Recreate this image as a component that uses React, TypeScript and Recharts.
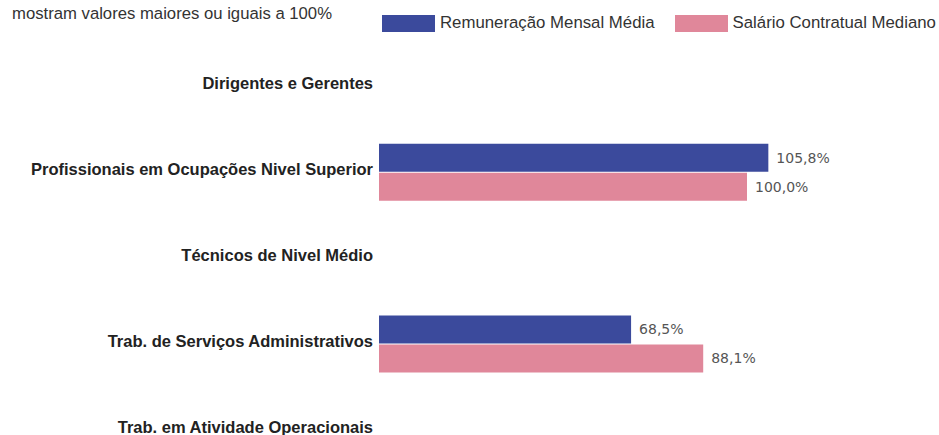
import React from "react";
import { BarChart, Bar, XAxis, YAxis, LabelList } from "recharts";

const categorias = [
    "Dirigentes e Gerentes",
    "Profissionais em Ocupações Nivel Superior",
    "Técnicos de Nivel Médio",
    "Trab. de Serviços Administrativos",
    "Trab. em Atividade Operacionais",
];
const remuneracaoMedia = [null, 105.8, null, 68.5, null];
const salarioMediano = [null, 100.0, null, 88.1, null];

const AZUL = "#3b4a9c";
const ROSA = "#e0879a";

const dados = categorias.map((nome, i) => ({
    nome,
    remuneracao: remuneracaoMedia[i],
    salario: salarioMediano[i],
}));

const formatPct = (v: any) => (v == null ? "" : v.toFixed(1).replace(".", ",") + "%");

const CategoriaTick = (props: any) => {
    const { x, y, payload } = props;
    return (
        <text x={x + 2} y={y} dy={2.5} textAnchor="end" fontFamily="Liberation Sans, Arial"
              fontWeight="bold" fontSize={16.5} fill="#222">
            {payload.value}
        </text>
    );
};

const caixa = (cor: string) => (
    <span style={{ display: "inline-block", width: 53, height: 17, background: cor, marginRight: 5 }} />
);

export default function App() {
    return (
        <div style={{ position: "absolute", left: 0, top: 0, width: 939, height: 435, overflow: "hidden", background: "#fff" }}>
            <div style={{ position: "absolute", left: 12, top: 4, fontFamily: "Liberation Sans, Arial", fontSize: 16.7, color: "#333" }}>
                mostram valores maiores ou iguais a 100%
            </div>
            <div style={{ position: "absolute", left: 382, top: 13, display: "flex", alignItems: "center", whiteSpace: "nowrap",
                          fontFamily: "Liberation Sans, Arial", fontSize: 16.8, color: "#333" }}>
                {caixa(AZUL)}
                <span style={{ marginRight: 20 }}>Remuneração Mensal Média</span>
                {caixa(ROSA)}
                <span>Salário Contratual Mediano</span>
            </div>
            <BarChart
                layout="vertical"
                width={939}
                height={473}
                data={dados}
                margin={{ top: 44, right: 8, bottom: 0, left: 0 }}
                barSize={28}
                barGap={1}
            >
                <XAxis type="number" domain={[0, 150]} hide />
                <YAxis type="category" dataKey="nome" width={379} axisLine={false} tickLine={false} tick={<CategoriaTick />} />
                <Bar dataKey="remuneracao" fill={AZUL} isAnimationActive={false}>
                    <LabelList dataKey="remuneracao" position="right" offset={8} formatter={formatPct}
                               fontFamily="DejaVu Sans" fontSize={14} fill="#555" />
                </Bar>
                <Bar dataKey="salario" fill={ROSA} isAnimationActive={false}>
                    <LabelList dataKey="salario" position="right" offset={8} formatter={formatPct}
                               fontFamily="DejaVu Sans" fontSize={14} fill="#555" />
                </Bar>
            </BarChart>
        </div>
    );
}
